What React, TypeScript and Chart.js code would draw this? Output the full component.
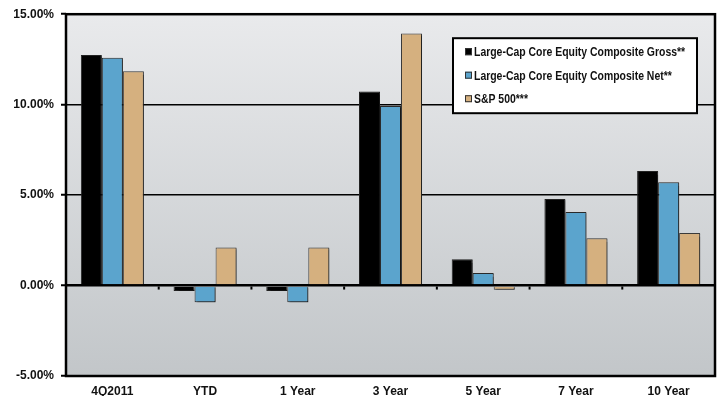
import React, { useEffect, useRef } from "react";
import { Chart, registerables } from "chart.js";

Chart.register(...registerables);

const categories = ["4Q2011", "YTD", "1 Year", "3 Year", "5 Year", "7 Year", "10 Year"];
const grossLabel = "Large-Cap Core Equity Composite Gross**";
const netLabel = "Large-Cap Core Equity Composite Net**";
const spLabel = "S&P 500***";
const grossValues = [12.75, -0.3, -0.3, 10.73, 1.45, 4.79, 6.33];
const netValues = [12.59, -0.93, -0.93, 9.92, 0.69, 4.07, 5.71];
const spValues = [11.85, 2.1, 2.1, 13.93, -0.23, 2.62, 2.9];
const yTicks = [-5, 0, 5, 10, 15];

const AXIS_FONT = "'Liberation Sans', Arial, sans-serif";

const bgPlugin = {
  id: "plotBg",
  beforeDraw(chart: any) {
    const { ctx, chartArea: a } = chart;
    ctx.save();
    const g = ctx.createLinearGradient(0, a.top, 0, a.bottom);
    g.addColorStop(0, "#e9eaec");
    g.addColorStop(1, "#c2c6c9");
    ctx.fillStyle = g;
    ctx.fillRect(a.left, a.top, a.right - a.left, a.bottom - a.top);
    ctx.restore();
  },
};

const shadowPlugin = {
  id: "barShadow",
  beforeDatasetsDraw(chart: any) {
    const ctx = chart.ctx;
    ctx.save();
    ctx.shadowColor = "rgba(0,0,0,0.45)";
    ctx.shadowOffsetX = 2;
    ctx.shadowOffsetY = 1;
    ctx.shadowBlur = 1;
  },
  afterDatasetsDraw(chart: any) {
    chart.ctx.restore();
  },
};

const framePlugin = {
  id: "frameLegend",
  afterDraw(chart: any) {
    const { ctx, chartArea: a, scales } = chart;
    const xs = scales.x;
    const ys = scales.y;
    ctx.save();
    // small category boundary ticks at zero line
    const zy = ys.getPixelForValue(0);
    ctx.fillStyle = "#000";
    for (let i = 1; i < categories.length; i++) {
      const bx = (xs.getPixelForValue(i - 1) + xs.getPixelForValue(i)) / 2;
      ctx.fillRect(bx - 1, zy + 1, 2, 3);
    }
    // frame
    ctx.strokeStyle = "#000";
    ctx.lineWidth = 2.5;
    ctx.strokeRect(a.left, a.top, a.right - a.left, a.bottom - a.top);

    // legend box
    const bx = a.right - 262;
    const by = a.top + 24;
    const bw = 244;
    const bh = 75;
    ctx.fillStyle = "#ffffff";
    ctx.fillRect(bx, by, bw, bh);
    ctx.lineWidth = 2;
    ctx.strokeStyle = "#000";
    ctx.strokeRect(bx, by, bw, bh);
    const ds = chart.data.datasets;
    ctx.font = "bold 12px 'Liberation Sans', Arial, sans-serif";
    ctx.textBaseline = "middle";
    ctx.textAlign = "left";
    for (let i = 0; i < ds.length; i++) {
      const cy = by + 14 + i * 23.5;
      ctx.fillStyle = ds[i].backgroundColor;
      ctx.fillRect(bx + 12, cy - 4, 7, 7);
      ctx.lineWidth = 1;
      ctx.strokeStyle = "#333";
      ctx.strokeRect(bx + 12.5, cy - 3.5, 6, 6);
      ctx.fillStyle = "#111";
      const w = ctx.measureText(ds[i].label).width;
      ctx.fillText(ds[i].label, bx + 21, cy + 0.5, w * 0.87);
    }
    ctx.restore();
  },
};

export default function App() {
  const ref = useRef<HTMLCanvasElement | null>(null);
  useEffect(() => {
    if (!ref.current) return;
    const chart = new Chart(ref.current, {
      type: "bar",
      data: {
        labels: categories,
        datasets: [
          { label: grossLabel, data: grossValues, backgroundColor: "#000000", borderColor: "#222", borderWidth: 1 },
          { label: netLabel, data: netValues, backgroundColor: "#5ba4cd", borderColor: "#2a2a2a", borderWidth: 1 },
          { label: spLabel, data: spValues, backgroundColor: "#d5b07f", borderColor: "#3a3a3a", borderWidth: 1 },
        ],
      },
      options: {
        animation: false,
        responsive: true,
        maintainAspectRatio: false,
        layout: { padding: { top: 14, right: 5, left: 0, bottom: 0 } },
        datasets: { bar: { barPercentage: 1, categoryPercentage: 0.68 } },
        plugins: { legend: { display: false }, tooltip: { enabled: false } },
        scales: {
          x: {
            grid: { display: false, drawTicks: false },
            border: { display: false },
            ticks: { color: "#111", font: { family: AXIS_FONT, size: 12, weight: "bold" }, padding: 8 },
            afterFit: (s: any) => {
              s.height = 20;
            },
          },
          y: {
            min: -5,
            max: 15,
            afterBuildTicks: (s: any) => {
              s.ticks = yTicks.map((v) => ({ value: v }));
            },
            border: { display: false },
            grid: {
              color: (c: any) => (c.tick && (c.tick.value === 0 || c.tick.value === 5 || c.tick.value === 10) ? "#000" : "rgba(0,0,0,0)"),
              lineWidth: (c: any) => (c.tick && c.tick.value === 0 ? 2.5 : 1.5),
              drawTicks: true,
              tickLength: 5,
              tickColor: "#000",
              tickWidth: 2,
            },
            ticks: {
              color: "#111",
              font: { family: AXIS_FONT, size: 12, weight: "bold" },
              padding: 7,
              callback: (v: any) => Number(v).toFixed(2) + "%",
            },
            afterFit: (s: any) => {
              s.width = 66;
            },
          },
        },
      },
      plugins: [bgPlugin, shadowPlugin, framePlugin],
    });
    return () => chart.destroy();
  }, []);
  return (
    <div style={{ position: "absolute", left: 0, top: 0, width: 720, height: 396, background: "#fff" }}>
      <canvas ref={ref} />
    </div>
  );
}
